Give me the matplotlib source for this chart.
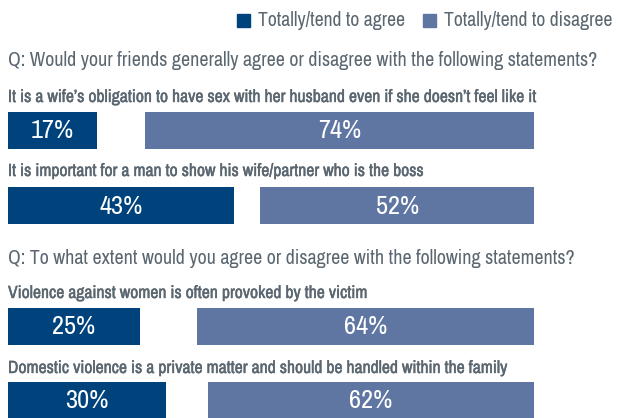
import matplotlib
matplotlib.use("Agg")
import matplotlib.pyplot as plt
import matplotlib.patheffects as pe
from matplotlib import font_manager

names = sorted({f.name for f in font_manager.fontManager.ttflist})
narrow = [n for n in names if "Narrow" in n or "Condensed" in n]
family = [narrow[0], "DejaVu Sans"] if narrow else ["Liberation Sans", "DejaVu Sans"]
plt.rcParams["font.family"] = family

questions = ["Q: Would your friends generally agree or disagree with the following statements?",
             "Q: To what extent would you agree or disagree with the following statements?"]
statements = ["It is a wife\u2019s obligation to have sex with her husband even if she doesn\u2019t feel like it",
              "It is important for a man to show his wife/partner who is the boss",
              "Violence against women is often provoked by the victim",
              "Domestic violence is a private matter and should be handled within the family"]
agree = [17, 43, 25, 30]
disagree = [74, 52, 64, 62]
legend_labels = ["Totally/tend to agree", "Totally/tend to disagree"]

c_agree = "#00437c"
c_dis = "#5f76a2"
gray = "#5b6770"

W, H = 629, 418
fig = plt.figure(figsize=(W / 100, H / 100), dpi=100)
ax = fig.add_axes([8 / W, 0, 526 / W, 1])
ax.set_xlim(0, 100)
ax.set_ylim(H, 0)
ax.axis("off")

bar_y = [130, 205, 326, 400]
stmt_y = [97, 171, 293, 368]
q_y = [60, 258]

bold = [pe.withStroke(linewidth=0.3, foreground=gray)]

for i in range(len(agree)):
    ax.barh(bar_y[i], agree[i], height=37, left=0, color=c_agree)
    ax.barh(bar_y[i], disagree[i], height=37, left=100 - disagree[i], color=c_dis)
    ax.text(agree[i] / 2, bar_y[i] + 1, f"{agree[i]}%", color="white", fontsize=19,
            ha="center", va="center")
    ax.text(100 - disagree[i] / 2, bar_y[i] + 1, f"{disagree[i]}%", color="white", fontsize=19,
            ha="center", va="center")
    fig.text(8 / W, 1 - stmt_y[i] / H, statements[i], color=gray, fontsize=12.7,
             fontweight="bold", ha="left", va="center", path_effects=bold)

for q, y in zip(questions, q_y):
    fig.text(8 / W, 1 - y / H, q, color=gray, fontsize=14.4, ha="left", va="center")

# legend
for x0, lab, col in zip([237, 423], legend_labels, [c_agree, c_dis]):
    fig.patches.append(plt.Rectangle((x0 / W, 1 - 27 / H), 13 / W, 13 / H,
                                     transform=fig.transFigure, color=col))
    fig.text((x0 + 21) / W, 1 - 20 / H, lab, color=gray, fontsize=14.2,
             ha="left", va="center")

fig.savefig("out.png", dpi=100)
